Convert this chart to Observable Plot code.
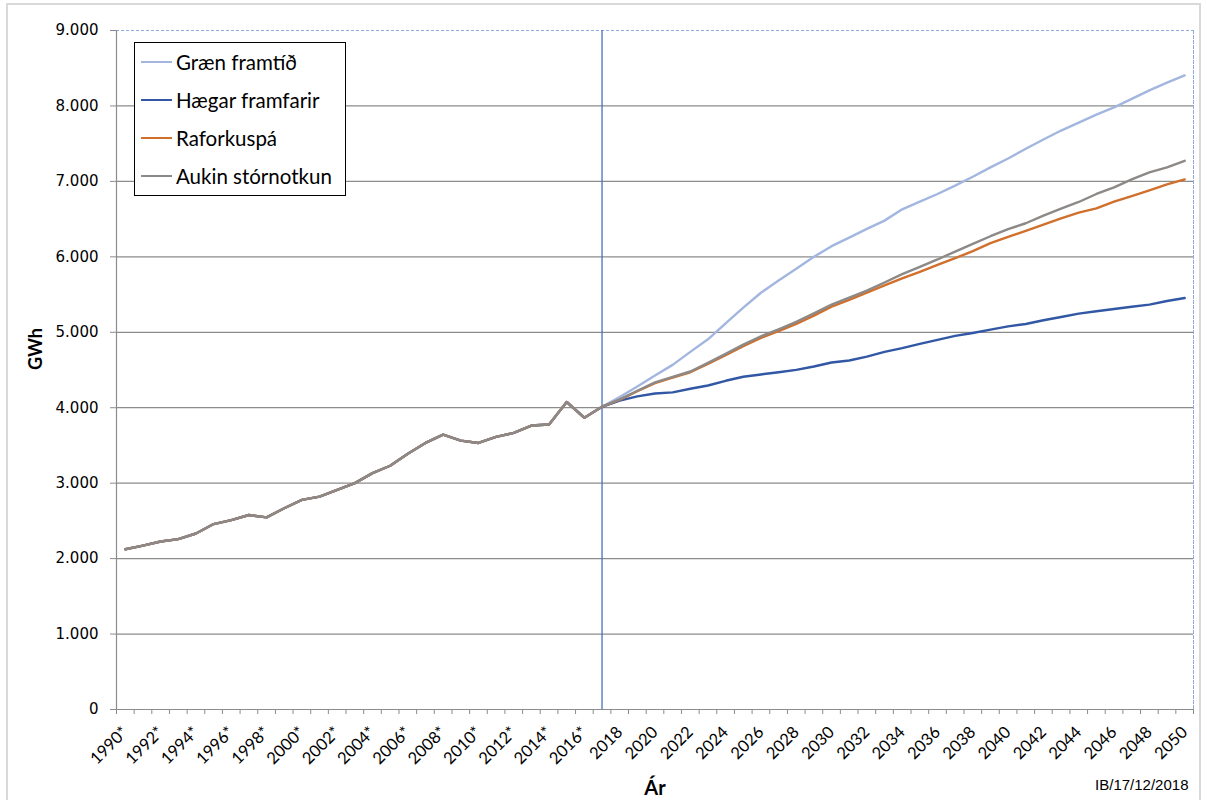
<!DOCTYPE html>
<html>
<head>
<meta charset="utf-8">
<script src="https://cdn.jsdelivr.net/npm/d3@7"></script>
<script src="https://cdn.jsdelivr.net/npm/@observablehq/plot@0.6"></script>
<style>
  html, body { margin: 0; padding: 0; background: #fff; }
  #wrap { position: relative; width: 1207px; height: 800px; overflow: hidden; }
  #border { position: absolute; left: 6px; top: 3px; width: 1195px; height: 800px; border: 2px solid #d9d9d9; box-sizing: border-box; }
  #legend { position: absolute; left: 134px; top: 42px; width: 212px; height: 154px; box-sizing: border-box;
            border: 1px solid #000; background: #fff; font-family: Lato, sans-serif; font-size: 20.5px; color: #000; }
  .row { position: absolute; left: 6px; height: 24px; display: flex; align-items: center; white-space: nowrap; }
  .sw { width: 31px; height: 2.5px; margin-right: 4px; }
  #chart { position: absolute; left: 0; top: 0; }
</style>
</head>
<body>
<div id="wrap">
  <div id="border"></div>
  <div id="chart"></div>
  <div id="legend"></div>
</div>
<script>
// Categories (years)
const years = [1990,1991,1992,1993,1994,1995,1996,1997,1998,1999,2000,2001,2002,2003,2004,2005,2006,2007,2008,2009,
  2010,2011,2012,2013,2014,2015,2016,2017,2018,2019,2020,2021,2022,2023,2024,2025,2026,2027,2028,2029,
  2030,2031,2032,2033,2034,2035,2036,2037,2038,2039,2040,2041,2042,2043,2044,2045,2046,2047,2048,2049,2050];

// Historical consumption 1990-2017 (GWh), shared by all scenarios
const history = [2124,2173,2227,2258,2333,2458,2511,2578,2547,2667,2778,2822,2911,3000,3133,3231,3391,3533,3644,3564,
  3533,3613,3667,3764,3778,4076,3867,4013];

// Projections 2018-2050
const graenFramtid = [4141,4282,4427,4568,4740,4907,5119,5326,5524,5687,5841,6000,6141,6255,6370,6480,6630,6731,6833,6943,
  7062,7185,7304,7432,7555,7674,7780,7885,7982,8093,8207,8308,8405];
const haegarFramfarir = [4093,4150,4189,4203,4251,4295,4357,4410,4441,4471,4502,4546,4599,4626,4678,4740,4789,4846,4899,4952,
  4991,5035,5079,5110,5159,5203,5247,5278,5308,5339,5366,5414,5454];
const raforkuspa = [4105,4218,4325,4400,4470,4580,4695,4815,4925,5015,5110,5220,5340,5430,5525,5621,5714,5802,5894,5982,
  6075,6181,6264,6344,6427,6511,6586,6643,6731,6806,6881,6960,7026];
const aukinStornotkun = [4110,4225,4335,4410,4480,4595,4714,4837,4947,5040,5137,5251,5366,5458,5551,5660,5771,5868,5965,6070,
  6172,6273,6366,6445,6546,6639,6727,6833,6921,7026,7119,7185,7273];

const seriesNames = ["Græn framtíð", "Hægar framfarir", "Raforkuspá", "Aukin stórnotkun"];
const seriesColors = ["#a3b6e0", "#3157a5", "#d0702c", "#8c8987"];

// Tick labels
const xTickYears = [1990,1992,1994,1996,1998,2000,2002,2004,2006,2008,2010,2012,2014,2016,2018,2020,2022,2024,2026,2028,
  2030,2032,2034,2036,2038,2040,2042,2044,2046,2048,2050];
const yTicks = [0,1000,2000,3000,4000,5000,6000,7000,8000,9000];
const yGrid = [1000,2000,3000,4000,5000,6000,7000,8000];
const splitYear = 2017;
const lastEstimatedYear = 2016;

// Build tidy data
const projections = [graenFramtid, haegarFramfarir, raforkuspa, aukinStornotkun];
const rows = [];
seriesNames.forEach((name, s) => {
  const vals = history.concat(projections[s]);
  vals.forEach((v, i) => rows.push({name, year: years[i], value: v}));
});

const isFmt = d3.formatLocale({decimal: ",", thousands: ".", grouping: [3], currency: ["", ""]}).format(",d");

const W = 1207, H = 800, mL = 116, mR = 14, mT = 30, mB = 91;
const step = (W - mL - mR) / years.length;

const lineMarks = seriesNames.map((name, s) =>
  Plot.lineY(rows.filter(r => r.name === name), {x: "year", y: "value", stroke: seriesColors[s], strokeWidth: 2.4})
);

const chart = Plot.plot({
  width: W, height: H,
  marginLeft: mL, marginRight: mR, marginTop: mT, marginBottom: mB,
  style: {background: "transparent", fontFamily: "Lato, sans-serif"},
  x: {type: "point", domain: years, padding: 0.5},
  y: {domain: [0, 9000]},
  marks: [
    Plot.ruleY(yGrid, {stroke: "#8c8c8c", strokeWidth: 1.2}),
    Plot.ruleY([9000], {stroke: "#8faadc", strokeWidth: 1, strokeDasharray: "3,2"}),
    Plot.frame({anchor: "right", stroke: "#8faadc", strokeDasharray: "3,2"}),
    Plot.frame({anchor: "left", stroke: "#8c8c8c", strokeWidth: 1.2}),
    Plot.ruleY([0], {stroke: "#8c8c8c", strokeWidth: 1.2}),
    Plot.axisY({ticks: yTicks, tickFormat: isFmt, tickSize: 6, tickPadding: 12, stroke: "#8c8c8c",
      fill: "#000", fontSize: 15, fontFamily: "DejaVu Sans", label: null}),
    Plot.axisX({ticks: years, tickSize: 5, tickFormat: () => "", dx: step / 2, stroke: "#8c8c8c", label: null}),
    Plot.axisX({ticks: [years[0]], tickSize: 5, tickFormat: () => "", dx: -step / 2, stroke: "#8c8c8c", label: null}),
    Plot.axisX({ticks: xTickYears, tickSize: 0, tickPadding: 20, tickRotate: -45,
      tickFormat: d => d <= lastEstimatedYear ? d + "*" : String(d), fontSize: 16.5, fill: "#000", label: null}),
    Plot.ruleX([splitYear], {stroke: "#4472c4", strokeWidth: 1.3}),
    ...lineMarks,
    Plot.text(["GWh"], {frameAnchor: "left", dx: -80, rotate: -90, fontSize: 18, fontWeight: "bold", fill: "#000"}),
    Plot.text(["Ár"], {frameAnchor: "bottom", dy: 85, fontSize: 20, fontWeight: "bold", fill: "#000"}),
    Plot.text(["IB/17/12/2018"], {frameAnchor: "bottom-right", dy: 80, dx: -5, textAnchor: "end",
      fontSize: 15, fontFamily: "Liberation Sans, Arial, sans-serif", fill: "#000"})
  ]
});
document.getElementById("chart").appendChild(chart);

// Legend
const legend = document.getElementById("legend");
seriesNames.forEach((name, s) => {
  const row = document.createElement("div");
  row.className = "row";
  row.style.top = (7 + s * 38) + "px";
  const sw = document.createElement("div");
  sw.className = "sw";
  sw.style.background = seriesColors[s];
  const t = document.createElement("span");
  t.textContent = name;
  row.appendChild(sw); row.appendChild(t);
  legend.appendChild(row);
});
</script>
</body>
</html>
